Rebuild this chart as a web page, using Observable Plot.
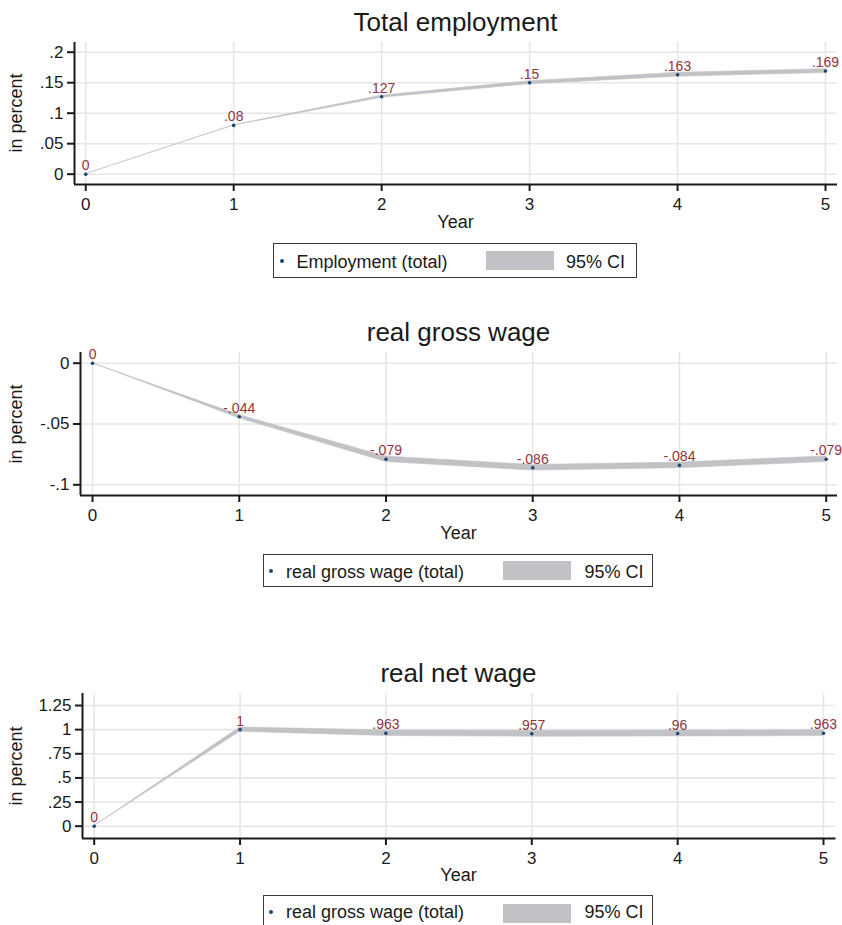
<!DOCTYPE html>
<html>
<head>
<meta charset="utf-8">
<script src="https://cdn.jsdelivr.net/npm/d3@7"></script>
<script src="https://cdn.jsdelivr.net/npm/@observablehq/plot@0.6"></script>
<style>
  html, body { margin: 0; padding: 0; background: #fff; overflow: hidden; }
  #page { position: relative; width: 842px; height: 925px; overflow: hidden; font-family: "Liberation Sans", Arial, sans-serif; color: #1a1a1a; }
  .abs { position: absolute; white-space: nowrap; line-height: 1; }
  .panel svg { overflow: visible; }
  .panel g[aria-label*="axis"] line, .panel g[aria-label*="axis"] path { stroke-width: 2px; stroke: #1a1a1a; }
  .panel g[aria-label*="axis"] text, .panel g[aria-label*="axis"] { font-size: 17px !important; font-family: "Liberation Sans", Arial, sans-serif; fill: #1a1a1a; }
  .panel g[aria-label="text"], .panel g[aria-label="text"] text { font-size: 14px !important; }
  .legend { position: absolute; border: 1px solid #3a3a3a; box-sizing: border-box; background: #fff; }
</style>
</head>
<body>
<div id="page"></div>
<script>
// ---------- data ----------
const years = [0, 1, 2, 3, 4, 5];
const xTickValues = [0, 1, 2, 3, 4, 5];

const employment   = [0, 0.080, 0.127, 0.150, 0.163, 0.169];
const employmentLo = [0, 0.0797, 0.1252, 0.1475, 0.1598, 0.1658];
const employmentHi = [0, 0.0803, 0.1288, 0.1525, 0.1662, 0.1722];

const grossWage   = [0, -0.044, -0.079, -0.086, -0.084, -0.079];
const grossWageLo = [0, -0.0453, -0.0812, -0.0883, -0.0863, -0.0813];
const grossWageHi = [0, -0.0427, -0.0768, -0.0837, -0.0817, -0.0767];

const netWage   = [0, 1.000, 0.963, 0.957, 0.960, 0.963];
const netWageLo = [0, 0.978, 0.934, 0.927, 0.930, 0.933];
const netWageHi = [0, 1.022, 0.992, 0.987, 0.990, 0.993];

const yTicksEmployment = [0, 0.05, 0.1, 0.15, 0.2];
const yTicksGross = [-0.1, -0.05, 0];
const yTicksNet = [0, 0.25, 0.5, 0.75, 1, 1.25];

const titles = ["Total employment", "real gross wage", "real net wage"];
const seriesLabels = ["Employment (total)", "real gross wage (total)", "real gross wage (total)"];
const ciLabel = "95% CI";
const xLabel = "Year";
const yLabel = "in percent";

// ---------- styling ----------
const bandColor = "#c1c2c6";
const dotColor = "#1a476f";
const labelColor = "#90353b";
const gridColor = "#e6e6e6";
const fmt = v => v === 0 ? "0" : String(+v.toFixed(4)).replace(/^(-?)0\./, "$1.");

const page = document.getElementById("page");

function addText(txt, {left, baseline, size, anchor = "start", rotate = false}) {
  const d = document.createElement("div");
  d.className = "abs";
  d.textContent = txt;
  d.style.fontSize = size + "px";
  if (rotate) {
    d.style.left = left + "px";
    d.style.top = baseline + "px";
    d.style.transform = "translate(-50%, -50%) rotate(-90deg)";
  } else {
    d.style.top = (baseline - 0.8465 * size) + "px";
    d.style.left = left + "px";
    if (anchor === "middle") d.style.transform = "translateX(-50%)";
  }
  page.appendChild(d);
  return d;
}

function panel({values, lo, hi, yTicks, top, height, marginLeft, marginRight, xDomain, yDomain}) {
  const data = years.map((yr, i) => ({year: yr, v: values[i], lo: lo[i], hi: hi[i]}));
  const chart = Plot.plot({
    width: 842,
    height,
    marginTop: 7,
    marginBottom: 51,
    marginLeft,
    marginRight,
    style: {fontFamily: "Liberation Sans, Arial, sans-serif", fontSize: "17px", color: "#1a1a1a", background: "transparent", overflow: "visible"},
    x: {domain: xDomain, ticks: xTickValues, tickFormat: d => String(d), tickSize: 7, tickPadding: 6, label: null},
    y: {domain: yDomain, ticks: yTicks, tickFormat: fmt, tickSize: 7, tickPadding: 4, label: null},
    marks: [
      Plot.ruleX(xTickValues, {stroke: gridColor, strokeWidth: 1.6}),
      Plot.ruleY(yTicks, {stroke: gridColor, strokeWidth: 1.6}),
      Plot.areaY(data, {x: "year", y1: "lo", y2: "hi", fill: bandColor, stroke: bandColor, strokeWidth: 0.6}),
      Plot.dot(data, {x: "year", y: "v", r: 1.8, fill: dotColor, stroke: null}),
      Plot.text(data, {x: "year", y: "v", text: d => fmt(d.v), lineAnchor: "bottom", dy: -4, fill: labelColor, fontSize: 14}),
      Plot.ruleY([yDomain[0]], {stroke: "#1a1a1a", strokeWidth: 2}),
      Plot.ruleX([xDomain[0]], {stroke: "#1a1a1a", strokeWidth: 2})
    ]
  });
  const wrap = document.createElement("div");
  wrap.className = "panel";
  wrap.style.position = "absolute";
  wrap.style.left = "0px";
  wrap.style.top = top + "px";
  wrap.appendChild(chart);
  page.appendChild(wrap);
}

function legend({label, box, dot, textLeft, baseline, swatch, ciLeft}) {
  const b = document.createElement("div");
  b.className = "legend";
  Object.assign(b.style, {left: box[0] + "px", top: box[1] + "px", width: box[2] + "px", height: box[3] + "px"});
  page.appendChild(b);
  const dt = document.createElement("div");
  Object.assign(dt.style, {position: "absolute", left: (dot[0] - 2) + "px", top: (dot[1] - 2) + "px", width: "4px", height: "4px", borderRadius: "50%", background: dotColor});
  page.appendChild(dt);
  addText(label, {left: textLeft, baseline, size: 18});
  const sw = document.createElement("div");
  Object.assign(sw.style, {position: "absolute", left: swatch[0] + "px", top: swatch[1] + "px", width: swatch[2] + "px", height: swatch[3] + "px", background: bandColor});
  page.appendChild(sw);
  addText(ciLabel, {left: ciLeft, baseline, size: 18});
}

// Panel 1
panel({values: employment, lo: employmentLo, hi: employmentHi, yTicks: yTicksEmployment,
  top: 35, height: 200, marginLeft: 74, marginRight: 5, xDomain: [-0.076, 5.081], yDomain: [-0.0169, 0.2159]});
addText(titles[0], {left: 455.5, baseline: 31.5, size: 26, anchor: "middle"});
addText(xLabel, {left: 455.5, baseline: 228.3, size: 18, anchor: "middle"});
addText(yLabel, {left: 16, baseline: 113, size: 18, rotate: true});
legend({label: seriesLabels[0], box: [273.3, 243.3, 363.4, 34.4], dot: [281.7, 260.7], textLeft: 296.5, baseline: 268.3, swatch: [486, 251, 68, 19], ciLeft: 566});

// Panel 2
panel({values: grossWage, lo: grossWageLo, hi: grossWageHi, yTicks: yTicksGross,
  top: 345, height: 201, marginLeft: 80, marginRight: 5, xDomain: [-0.082, 5.077], yDomain: [-0.1088, 0.0088]});
addText(titles[1], {left: 458.5, baseline: 341.5, size: 26, anchor: "middle"});
addText(xLabel, {left: 458.5, baseline: 539, size: 18, anchor: "middle"});
addText(yLabel, {left: 16, baseline: 423.5, size: 18, rotate: true});
legend({label: seriesLabels[1], box: [263.3, 554.3, 390, 32.4], dot: [270.7, 571], textLeft: 286, baseline: 578.3, swatch: [503.3, 561, 67.4, 19], ciLeft: 584.5});

// Panel 3
panel({values: netWage, lo: netWageLo, hi: netWageHi, yTicks: yTicksNet,
  top: 686, height: 203, marginLeft: 82, marginRight: 6.5, xDomain: [-0.0802, 5.0857], yDomain: [-0.1274, 1.3743]});
addText(titles[2], {left: 458.5, baseline: 682.5, size: 26, anchor: "middle"});
addText(xLabel, {left: 458.5, baseline: 881.7, size: 18, anchor: "middle"});
addText(yLabel, {left: 16, baseline: 765.5, size: 18, rotate: true});
legend({label: seriesLabels[2], box: [263.3, 895, 390, 32.4], dot: [270.7, 912], textLeft: 286, baseline: 918.3, swatch: [503.3, 904, 67.4, 19], ciLeft: 584.5});
</script>
</body>
</html>
